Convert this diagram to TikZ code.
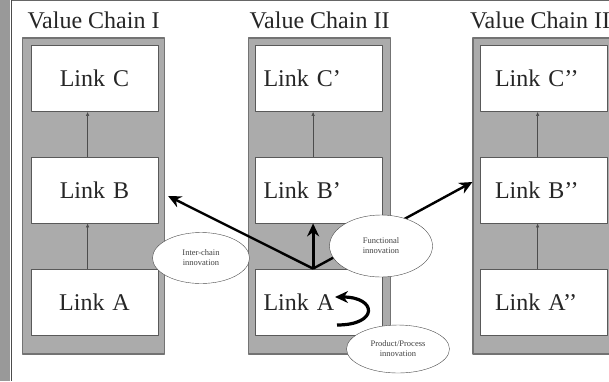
\documentclass[tikz,border=0pt]{standalone}
\usepackage{fontspec}
\setmainfont{Liberation Serif}
\usetikzlibrary{arrows.meta,shapes.geometric}

\begin{document}
\begin{tikzpicture}[x=1pt, y=-1pt, line join=round, >=Stealth,
    panel/.style={draw=black!55, fill=black!33, line width=1.2pt,
        minimum width=142pt, minimum height=316pt, inner sep=0pt},
    linkbox/.style={draw=black!65, fill=white, line width=0.8pt,
        minimum height=66pt, font=\fontsize{24}{28}\selectfont, text=black!85},
    chainI/.style={linkbox, align=center, inner xsep=8pt, text width=111pt},
    chainII/.style={linkbox, align=left, inner xsep=8pt, text width=111pt},
    chainIII/.style={linkbox, align=left, inner xsep=15pt, text width=97pt},
    title/.style={font=\fontsize{24}{28}\selectfont, text=black!85},
    bubble/.style={ellipse, draw=black!70, fill=white, inner sep=0pt, align=center,
        font=\fontsize{8.5}{10}\selectfont, text=black!75},
    thin link/.style={-{Latex[length=4pt,width=3.5pt]}, draw=black!70, line width=0.5pt},
    thick link/.style={-{Stealth[length=13pt,width=12pt]}, line width=2.8pt}]

    % Page frame
    \clip (0,0) rectangle (609,381);
    \fill[black!40] (0,0) rectangle (10,381);
    \draw[black!70, line width=1.5pt] (11.5,0) -- (11.5,381);
    \draw[black!60, line width=1pt] (12,0.5) -- (609,0.5);

    % Chain panels
    \node[panel] (panel1) at (93.5,196) {};
    \node[panel] (panel2) at (319.5,196) {};
    \node[panel] (panel3) at (544,196) {};

    % Titles
    \node[title] (title1) at ([yshift=17pt]panel1.north) {Value Chain I};
    \node[title] (title2) at ([yshift=17pt]panel2.north) {Value Chain II};
    \node[title] (title3) at ([yshift=17pt]panel3.north) {Value Chain III};

    % Links
    \node[chainI] (C1) at (94.5,78.5) {Link C};
    \node[chainI] (B1) at (94.5,190) {Link B};
    \node[chainI] (A1) at (94.5,302) {Link A};
    \node[chainII] (C2) at (319,78.5) {Link C'};
    \node[chainII] (B2) at (319,190) {Link B'};
    \node[chainII] (A2) at (319,302) {Link A};
    \node[chainIII] (C3) at (543.5,78.5) {Link C’’};
    \node[chainIII] (B3) at (543.5,190) {Link B’’};
    \node[chainIII] (A3) at (543.5,302) {Link A’’};

    % Links inside a chain
    \draw[thin link] ([xshift=57pt]A1.north west) -- ([xshift=57pt]B1.south west);
    \draw[thin link] ([xshift=57pt]B1.north west) -- ([xshift=57pt]C1.south west);
    \draw[thin link] ([xshift=58pt]B2.north west) -- ([xshift=58pt]C2.south west);
    \draw[thin link] ([xshift=58pt]A3.north west) -- ([xshift=58pt]B3.south west);
    \draw[thin link] ([xshift=58pt]B3.north west) -- ([xshift=58pt]C3.south west);

    % Upgrading moves out of Link A
    \coordinate (hub) at ([xshift=58pt]A2.north west);
    \draw[thick link] (hub) -- (hub |- B2.south);
    \draw[thick link, line width=2.4pt] (hub) -- ([xshift=3pt]panel1.east);
    \draw[thick link, line width=2.4pt] (hub) -- ([yshift=14pt]panel3.west);

    % Labels
    \node[bubble, minimum width=97pt, minimum height=51pt] (inter) at (201,258)
        {Inter-chain\\innovation};
    \node[bubble, minimum width=103pt, minimum height=62pt] (func) at (381,246)
        {Functional\\innovation};
    \node[bubble, minimum width=103pt, minimum height=48pt] (prod) at (398,349)
        {Product/Process\\innovation};

    % Product/process loop
    \draw[thick link, line width=3.2pt] ([shift={(18,23)}]A2.center)
        .. controls +(42,0) and +(42,0) .. ([shift={(16,-5)}]A2.center);
\end{tikzpicture}
\end{document}
